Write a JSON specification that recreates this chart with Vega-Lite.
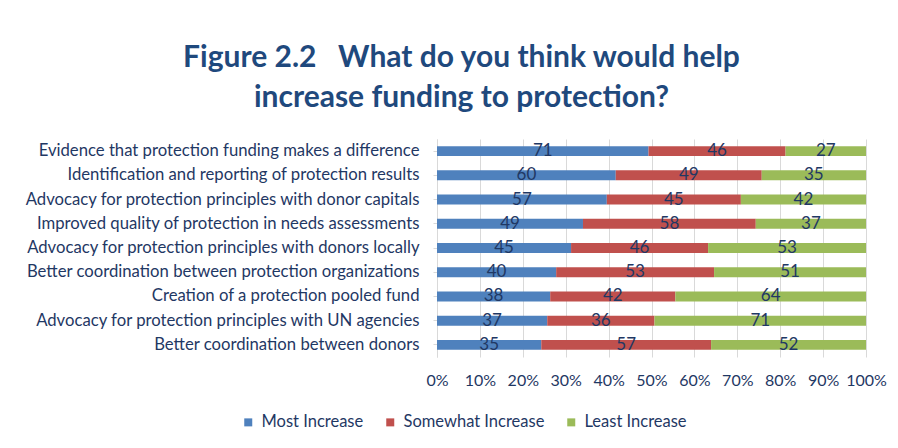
{
  "$schema": "https://vega.github.io/schema/vega-lite/v6.json",
  "width": 429,
  "height": 218,
  "autosize": {"type": "none"},
  "padding": {"left": 437, "top": 139, "right": 32, "bottom": 91},
  "background": "white",
  "config": {"view": {"stroke": null}, "font": "Lato"},
  "title": {
    "text": ["Figure 2.2\u00a0\u00a0\u00a0What do you think would help", "increase funding to protection?"],
    "anchor": "middle",
    "frame": "group",
    "dx": -190,
    "fontSize": 30,
    "fontWeight": "bold",
    "color": "#1F497D",
    "lineHeight": 40,
    "offset": 26
  },
  "data": {
    "values": [
      {"item": "Evidence that protection funding makes a difference", "level": "Most Increase", "order": 1, "value": 71},
      {"item": "Evidence that protection funding makes a difference", "level": "Somewhat Increase", "order": 2, "value": 46},
      {"item": "Evidence that protection funding makes a difference", "level": "Least Increase", "order": 3, "value": 27},
      {"item": "Identification and reporting of protection results", "level": "Most Increase", "order": 1, "value": 60},
      {"item": "Identification and reporting of protection results", "level": "Somewhat Increase", "order": 2, "value": 49},
      {"item": "Identification and reporting of protection results", "level": "Least Increase", "order": 3, "value": 35},
      {"item": "Advocacy for protection principles with donor capitals", "level": "Most Increase", "order": 1, "value": 57},
      {"item": "Advocacy for protection principles with donor capitals", "level": "Somewhat Increase", "order": 2, "value": 45},
      {"item": "Advocacy for protection principles with donor capitals", "level": "Least Increase", "order": 3, "value": 42},
      {"item": "Improved quality of protection in needs assessments", "level": "Most Increase", "order": 1, "value": 49},
      {"item": "Improved quality of protection in needs assessments", "level": "Somewhat Increase", "order": 2, "value": 58},
      {"item": "Improved quality of protection in needs assessments", "level": "Least Increase", "order": 3, "value": 37},
      {"item": "Advocacy for protection principles with donors locally", "level": "Most Increase", "order": 1, "value": 45},
      {"item": "Advocacy for protection principles with donors locally", "level": "Somewhat Increase", "order": 2, "value": 46},
      {"item": "Advocacy for protection principles with donors locally", "level": "Least Increase", "order": 3, "value": 53},
      {"item": "Better coordination between protection organizations", "level": "Most Increase", "order": 1, "value": 40},
      {"item": "Better coordination between protection organizations", "level": "Somewhat Increase", "order": 2, "value": 53},
      {"item": "Better coordination between protection organizations", "level": "Least Increase", "order": 3, "value": 51},
      {"item": "Creation of a protection pooled fund", "level": "Most Increase", "order": 1, "value": 38},
      {"item": "Creation of a protection pooled fund", "level": "Somewhat Increase", "order": 2, "value": 42},
      {"item": "Creation of a protection pooled fund", "level": "Least Increase", "order": 3, "value": 64},
      {"item": "Advocacy for protection principles with UN agencies", "level": "Most Increase", "order": 1, "value": 37},
      {"item": "Advocacy for protection principles with UN agencies", "level": "Somewhat Increase", "order": 2, "value": 36},
      {"item": "Advocacy for protection principles with UN agencies", "level": "Least Increase", "order": 3, "value": 71},
      {"item": "Better coordination between donors", "level": "Most Increase", "order": 1, "value": 35},
      {"item": "Better coordination between donors", "level": "Somewhat Increase", "order": 2, "value": 57},
      {"item": "Better coordination between donors", "level": "Least Increase", "order": 3, "value": 52}
    ]
  },
  "transform": [
    {"stack": "value", "groupby": ["item"], "sort": [{"field": "order"}], "as": ["v0", "v1"], "offset": "normalize"},
    {"calculate": "(datum.v0 + datum.v1) / 2", "as": "mid"}
  ],
  "encoding": {
    "y": {
      "field": "item",
      "type": "nominal",
      "sort": null,
      "title": null,
      "scale": {"paddingInner": 0.59, "paddingOuter": 0.295},
      "axis": {
        "labelFontSize": 16.7,
        "labelColor": "#1F3864",
        "labelPadding": 14,
        "labelLimit": 450,
        "domain": true,
        "domainColor": "#D9D9D9",
        "ticks": true,
        "tickColor": "#D9D9D9",
        "tickSize": 4
      }
    }
  },
  "layer": [
    {
      "mark": {"type": "bar"},
      "encoding": {
        "x": {
          "field": "v0",
          "type": "quantitative",
          "scale": {"domain": [0, 1]},
          "title": null,
          "axis": {
            "format": ".0%",
            "values": [0, 0.1, 0.2, 0.3, 0.4, 0.5, 0.6, 0.7, 0.8, 0.9, 1],
            "labelOverlap": false,
            "labelFlush": false,
            "labelFontSize": 16,
            "labelColor": "#1F3864",
            "labelPadding": 15,
            "domain": false,
            "ticks": false,
            "grid": true,
            "gridColor": "#D9D9D9"
          }
        },
        "x2": {"field": "v1"},
        "color": {
          "field": "level",
          "type": "nominal",
          "sort": ["Most Increase", "Somewhat Increase", "Least Increase"],
          "scale": {
            "domain": ["Most Increase", "Somewhat Increase", "Least Increase"],
            "range": ["#4F81BD", "#C0504D", "#9BBB59"]
          },
          "legend": {
            "title": null,
            "orient": "none",
            "direction": "horizontal",
            "legendX": -197,
            "legendY": 275,
            "symbolType": "square",
            "symbolSize": 64,
            "symbolStrokeWidth": 0,
            "labelFontSize": 16.5,
            "labelColor": "#1F3864",
            "labelOffset": 5,
            "columnPadding": 18
          }
        }
      }
    },
    {
      "mark": {"type": "text", "fontSize": 17, "color": "#1F3864"},
      "encoding": {
        "x": {"field": "mid", "type": "quantitative"},
        "text": {"field": "value", "type": "quantitative"}
      }
    }
  ]
}
